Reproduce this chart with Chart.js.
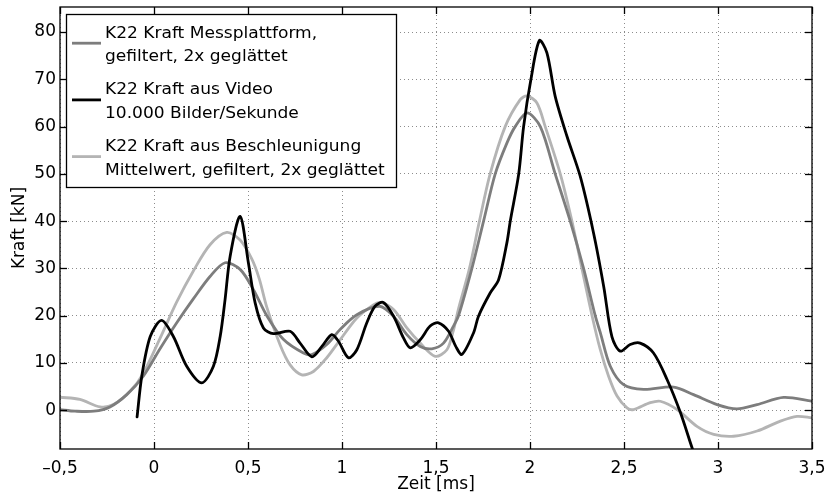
<!DOCTYPE html>
<html>
<head>
<meta charset="utf-8">
<script src="https://cdn.jsdelivr.net/npm/chart.js@4/dist/chart.umd.min.js"></script>
<style>
  html, body { margin: 0; padding: 0; background: #fff; }
  #wrap { width: 827px; height: 498px; }
</style>
</head>
<body>
<div id="wrap"><canvas id="c" width="827" height="498"></canvas></div>
<script>
// Time axis [ms] and force [kN] samples for the three measurement series
const timePlatform = [-0.5, -0.42, -0.32, -0.234, -0.145, -0.057, 0.032, 0.121, 0.21, 0.298, 0.378, 0.458, 0.529, 0.6, 0.688, 0.795, 0.84, 0.919, 0.99, 1.079, 1.2, 1.274, 1.345, 1.416, 1.478, 1.54, 1.593, 1.62, 1.691, 1.753, 1.815, 1.877, 1.921, 1.984, 2.055, 2.134, 2.214, 2.285, 2.347, 2.374, 2.427, 2.498, 2.604, 2.764, 2.87, 2.995, 3.101, 3.208, 3.349, 3.5];
const forcePlatform = [0.1, -0.2, -0.2, 0.7, 3.3, 7.2, 13.0, 18.5, 23.6, 28.3, 31.2, 29.8, 25.5, 20.0, 15.0, 12.1, 11.8, 13.9, 17.1, 20.2, 22.0, 19.9, 16.0, 13.5, 13.0, 14.2, 17.8, 20, 30, 40, 50, 56.5, 60, 62.9, 60, 50, 40, 30, 20, 16.4, 9.3, 5.4, 4.4, 4.9, 3.3, 1.2, 0.3, 1.2, 2.7, 1.9];

const timeVideo = [-0.09, -0.065, -0.02, 0.04, 0.103, 0.174, 0.254, 0.316, 0.352, 0.378, 0.405, 0.458, 0.502, 0.538, 0.582, 0.635, 0.724, 0.777, 0.84, 0.893, 0.946, 0.981, 1.034, 1.079, 1.132, 1.176, 1.22, 1.274, 1.327, 1.363, 1.416, 1.469, 1.513, 1.567, 1.605, 1.638, 1.70, 1.726, 1.788, 1.833, 1.877, 1.895, 1.94, 1.966, 2.005, 2.05, 2.09, 2.134, 2.197, 2.267, 2.338, 2.392, 2.436, 2.48, 2.533, 2.586, 2.657, 2.729, 2.8, 2.862, 2.89];
const forceVideo = [-1.4, 7.2, 15.6, 19.0, 15.6, 9.3, 5.8, 9.3, 15.6, 23.4, 32.6, 41.0, 31.2, 22.7, 17.4, 16.2, 16.7, 14.2, 11.3, 13.5, 16.0, 14.6, 11.1, 12.8, 18.5, 22.0, 22.8, 19.9, 15.3, 13.2, 14.9, 17.8, 18.5, 16.7, 13.5, 11.8, 16.4, 19.9, 24.8, 27.6, 35.4, 40, 50, 60, 70, 78.2, 75.6, 66.4, 57.9, 49.5, 37.5, 26.2, 15.5, 12.5, 13.9, 14.2, 12.1, 6.5, -0.5, -7.95, -11];

const timeAccel = [-0.5, -0.394, -0.287, -0.216, -0.127, -0.057, 0.032, 0.121, 0.21, 0.298, 0.387, 0.458, 0.52, 0.56, 0.6, 0.671, 0.724, 0.786, 0.848, 0.919, 0.99, 1.079, 1.167, 1.203, 1.274, 1.345, 1.416, 1.496, 1.558, 1.59, 1.62, 1.678, 1.731, 1.788, 1.868, 1.948, 1.984, 2.037, 2.081, 2.161, 2.223, 2.276, 2.33, 2.374, 2.418, 2.463, 2.516, 2.551, 2.64, 2.693, 2.782, 2.888, 2.977, 3.083, 3.208, 3.332, 3.42, 3.5];
const forceAccel = [2.75, 2.3, 0.7, 1.2, 4.0, 7.8, 15.2, 22.9, 29.5, 35.0, 37.6, 36.0, 32.0, 27.8, 21.8, 13.8, 9.6, 7.5, 8.2, 11.1, 14.9, 19.5, 22.3, 22.8, 21.3, 17.4, 14.2, 11.4, 12.8, 16.5, 21.5, 30, 40, 50, 60, 65.7, 66.5, 65.0, 60, 50, 40, 30, 20, 12.8, 7.2, 3.0, 0.5, 0.15, 1.6, 1.9, 0.15, -3.4, -5.1, -5.5, -4.4, -2.3, -1.3, -1.6];

const seriesLabels = [
  'K22 Kraft Messplattform,\ngefiltert, 2x geglättet',
  'K22 Kraft aus Video\n10.000 Bilder/Sekunde',
  'K22 Kraft aus Beschleunigung\nMittelwert, gefiltert, 2x geglättet'
];

const xTickValues = [-0.5, 0, 0.5, 1, 1.5, 2, 2.5, 3, 3.5];
const xTickLabels = ['\u20130,5', '0', '0,5', '1', '1,5', '2', '2,5', '3', '3,5'];
const yTickValues = [0, 10, 20, 30, 40, 50, 60, 70, 80];
const yTickLabels = ['0', '10', '20', '30', '40', '50', '60', '70', '80'];

const toPoints = (t, f) => t.map((v, i) => ({ x: v, y: f[i] }));

Chart.defaults.font.family = "'DejaVu Sans', sans-serif";
Chart.defaults.font.size = 17;
Chart.defaults.color = '#000';

// Axes box with inward tick marks, plus the boxed legend in the upper left
const framePlugin = {
  id: 'frame',
  afterDraw(chart) {
    const { ctx, chartArea: a, scales: { x, y } } = chart;
    ctx.save();
    ctx.strokeStyle = '#000';
    ctx.lineWidth = 1.3;
    ctx.setLineDash([]);
    const seg = (x1, y1, x2, y2) => { ctx.beginPath(); ctx.moveTo(x1, y1); ctx.lineTo(x2, y2); ctx.stroke(); };
    const len = 7;
    x.ticks.forEach(t => {
      const px = Math.round(x.getPixelForValue(t.value)) + 0.5;
      seg(px, a.bottom, px, a.bottom - len);
      seg(px, a.top, px, a.top + len);
    });
    y.ticks.forEach(t => {
      const py = Math.round(y.getPixelForValue(t.value)) + 0.5;
      seg(a.left, py, a.left + len, py);
      seg(a.right, py, a.right - len, py);
    });
    ctx.strokeRect(a.left, a.top, a.right - a.left, a.bottom - a.top);

    // legend
    const box = { l: 66, t: 14, r: 396, b: 187 };
    ctx.fillStyle = '#fff';
    ctx.fillRect(box.l, box.t, box.r - box.l, box.b - box.t);
    ctx.lineWidth = 1.3;
    ctx.strokeRect(box.l + 0.5, box.t + 0.5, box.r - box.l, box.b - box.t);
    ctx.font = "16px 'DejaVu Sans', sans-serif";
    ctx.textBaseline = 'alphabetic';
    ctx.textAlign = 'left';
    const stretch = 1.065;
    chart.data.datasets.forEach((ds, i) => {
      const base = 37.7 + 56.7 * i;
      const lines = ds.label.split('\n');
      ctx.strokeStyle = ds.borderColor;
      ctx.lineWidth = ds.borderWidth;
      seg(72, base + 5.5, 101, base + 5.5);
      ctx.fillStyle = '#000';
      lines.forEach((ln, k) => {
        ctx.save();
        ctx.translate(105, base + 23.5 * k);
        ctx.scale(stretch, 1);
        ctx.fillText(ln, 0, 0);
        ctx.restore();
      });
    });
    ctx.restore();
  }
};

new Chart(document.getElementById('c'), {
  type: 'line',
  data: {
    datasets: [
      { label: seriesLabels[0], data: toPoints(timePlatform, forcePlatform), borderColor: '#7d7d7d', borderWidth: 2.8, order: 1 },
      { label: seriesLabels[1], data: toPoints(timeVideo, forceVideo), borderColor: '#000000', borderWidth: 2.8, order: 0 },
      { label: seriesLabels[2], data: toPoints(timeAccel, forceAccel), borderColor: '#b4b4b4', borderWidth: 2.8, order: 2 }
    ]
  },
  options: {
    responsive: false,
    devicePixelRatio: 1,
    animation: false,
    parsing: false,
    layout: { padding: { left: 0, right: 15, top: 7, bottom: 0 } },
    elements: {
      point: { radius: 0 },
      line: { tension: 0.3, fill: false, borderJoinStyle: 'round', borderCapStyle: 'round' }
    },
    plugins: { legend: { display: false }, tooltip: { enabled: false } },
    scales: {
      x: {
        type: 'linear', min: -0.5, max: 3.5,
        afterBuildTicks: s => { s.ticks = xTickValues.map(v => ({ value: v })); },
        afterFit: s => { s.height = 49; s.paddingLeft = 0; s.paddingRight = 0; },
        ticks: { padding: 9, autoSkip: false, maxRotation: 0, color: '#000', callback: (v, i) => xTickLabels[i] },
        grid: { color: '#8c8c8c', lineWidth: 1, drawTicks: false },
        border: { display: false, dash: [1, 3] },
        title: { display: true, text: 'Zeit [ms]', color: '#000', padding: { top: 0, bottom: 3 } }
      },
      y: {
        type: 'linear', min: -8.2, max: 85.3,
        afterBuildTicks: s => { s.ticks = yTickValues.map(v => ({ value: v })); },
        afterFit: s => { s.width = 60; s.paddingTop = 0; s.paddingBottom = 0; },
        ticks: { padding: 4, color: '#000', callback: (v, i) => yTickLabels[i] },
        grid: { color: '#8c8c8c', lineWidth: 1, drawTicks: false },
        border: { display: false, dash: [1, 3] },
        title: { display: true, text: 'Kraft [kN]', color: '#000', padding: { top: 9, bottom: 0 } }
      }
    }
  },
  plugins: [framePlugin]
});
</script>
</body>
</html>
